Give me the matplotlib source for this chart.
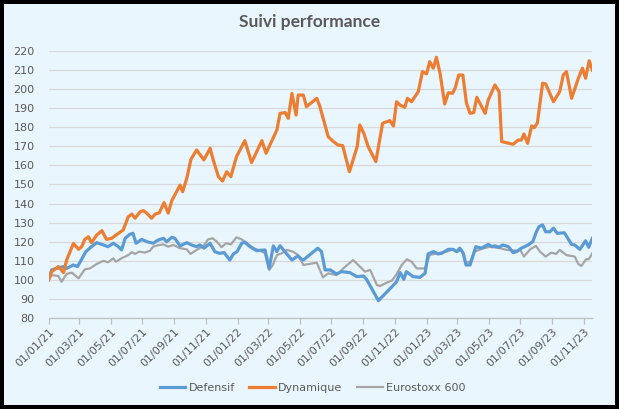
import matplotlib
matplotlib.use("Agg")
import matplotlib.pyplot as plt
import matplotlib.dates as mdates
from matplotlib.patches import Rectangle
import pandas as pd

# ---------------- data ----------------
dyn_dates = ["2021-01-01","2021-01-07","2021-01-20","2021-01-30","2021-02-05","2021-02-18","2021-02-28",
    "2021-03-06","2021-03-12","2021-03-19","2021-03-25","2021-04-04","2021-04-14","2021-04-23","2021-05-03",
    "2021-05-16","2021-05-25","2021-06-04","2021-06-11","2021-06-17","2021-06-27","2021-07-03","2021-07-10",
    "2021-07-19","2021-07-26","2021-08-03","2021-08-12","2021-08-20","2021-08-27","2021-09-12","2021-09-17",
    "2021-09-25","2021-10-03","2021-10-14","2021-10-28","2021-11-09","2021-11-15","2021-11-25","2021-12-03",
    "2021-12-11","2021-12-19","2021-12-30","2022-01-15","2022-01-28","2022-02-17","2022-02-25","2022-03-18",
    "2022-03-24","2022-04-03","2022-04-09","2022-04-16","2022-04-24","2022-04-28","2022-05-08","2022-05-14",
    "2022-06-03","2022-06-09","2022-06-25","2022-07-05","2022-07-14","2022-07-23","2022-08-05","2022-08-20",
    "2022-08-25","2022-09-02","2022-09-10","2022-09-25","2022-10-08","2022-10-22","2022-10-29","2022-11-04",
    "2022-11-11","2022-11-20","2022-11-25","2022-12-03","2022-12-16","2022-12-24","2023-01-01","2023-01-07",
    "2023-01-14","2023-01-20","2023-01-27","2023-02-05","2023-02-12","2023-02-20","2023-02-25","2023-03-04",
    "2023-03-12","2023-03-19","2023-03-26","2023-04-02","2023-04-08","2023-04-24","2023-04-30","2023-05-13",
    "2023-05-21","2023-05-26","2023-06-17","2023-06-27","2023-07-03","2023-07-08","2023-07-15","2023-07-23",
    "2023-07-28","2023-08-03","2023-08-13","2023-08-19","2023-09-03","2023-09-15","2023-09-22","2023-09-28",
    "2023-10-08","2023-10-21","2023-10-29","2023-11-04","2023-11-11","2023-11-17"]
dynamique = [100,104.3,107,103.8,110.4,119.1,116,
    117.4,121.2,122.6,119.5,123.5,125.8,121.2,121.8,
    124.4,126.1,133.1,134.5,132.3,135.7,136.3,134.9,
    132.3,134.5,135.2,140.5,135,141.5,149.7,146.2,
    153.3,163.2,168.1,162.9,169,162.9,154.1,151.8,
    156.7,154.1,164.6,173,161.5,173,166.4,178.6,
    187.3,187.7,184.7,197.8,186.4,196.9,196.9,190.8,
    195.2,190.8,175.1,172.5,170.7,170.4,156.7,169.9,
    181.2,176.8,169.9,162,182.1,183.5,180.7,193.4,
    191.6,190.5,195.2,193.4,198.7,209.2,208,214.4,
    211,216.7,208.3,192.2,198.1,197.8,200.4,207.4,
    207.4,192.6,187.3,187.7,195.7,187.3,194.3,202.2,
    198.7,172.5,171.1,173.3,173.3,176.5,171.6,180.7,
    179.8,182.4,203.1,202.7,193.4,198.7,207.4,209.2,
    195.2,205.7,211,205.7,214.9,210]

def_dates = ["2021-01-01","2021-01-07","2021-01-17","2021-01-30","2021-02-05","2021-02-12","2021-02-18",
    "2021-02-26","2021-03-06","2021-03-14","2021-03-25","2021-04-04","2021-04-17","2021-04-26","2021-05-06",
    "2021-05-16","2021-05-22","2021-05-29","2021-06-07","2021-06-13","2021-06-19","2021-06-30","2021-07-10",
    "2021-07-22","2021-08-01","2021-08-11","2021-08-17","2021-08-27","2021-09-02","2021-09-12","2021-09-25",
    "2021-10-04","2021-10-14","2021-10-20","2021-10-28","2021-11-09","2021-11-18","2021-11-27","2021-12-06",
    "2021-12-17","2021-12-24","2021-12-31","2022-01-09","2022-01-15","2022-01-25","2022-02-07","2022-02-23",
    "2022-03-03","2022-03-11","2022-03-18","2022-03-24","2022-04-05","2022-04-16","2022-04-27","2022-05-05",
    "2022-05-08","2022-06-05","2022-06-12","2022-06-19","2022-06-29","2022-07-11","2022-07-21","2022-08-06",
    "2022-08-19","2022-09-01","2022-09-07","2022-09-30","2022-10-26","2022-11-04","2022-11-11","2022-11-18",
    "2022-11-23","2022-12-06","2022-12-19","2022-12-29","2023-01-04","2023-01-14","2023-01-23","2023-01-30",
    "2023-02-12","2023-02-21","2023-02-28","2023-03-06","2023-03-13","2023-03-18","2023-03-26","2023-04-06",
    "2023-04-17","2023-04-30","2023-05-07","2023-05-13","2023-05-21","2023-05-28","2023-06-08","2023-06-17",
    "2023-06-24","2023-07-03","2023-07-16","2023-07-25","2023-08-01","2023-08-06","2023-08-13","2023-08-19",
    "2023-08-27","2023-09-03","2023-09-10","2023-09-24","2023-10-08","2023-10-14","2023-10-24","2023-11-04",
    "2023-11-10","2023-11-17"]
defensif = [100,105.2,106,107,106,107,107.8,
    107,110.8,114.8,117.4,119.5,118.3,117.4,119.2,
    117.4,115.7,121.8,123.9,124.4,119.2,121.2,120,
    119.2,120.9,121.8,120,122.3,121.8,117.8,119.5,
    118.3,117.4,118.3,116.6,119.2,114.8,113.9,114.3,
    110.4,113.6,114.8,119.2,119.7,117.4,115.3,115.7,
    106,117.8,114.8,117.9,113.9,110.4,112.5,110.8,
    110.4,116.6,114.8,105.2,105.2,103.1,104.3,103.8,
    101.7,102,100.3,89.1,96.4,99,103.8,100.3,
    104.3,101.7,101.3,103.4,113.6,114.8,113.6,113.9,
    116,116,114.8,116.6,113.9,107.8,107.8,117.4,
    116.6,118.6,117.4,117.8,117.1,118.3,117.4,114.3,
    114.8,116.6,118.3,120,125.2,127.9,128.8,125.2,
    125.2,127.1,124.4,124.7,118.6,118.3,116,120.5,
    117.1,121.8]

eur_dates = ["2021-01-01","2021-01-07","2021-01-20","2021-01-26","2021-02-05","2021-02-15","2021-02-28",
    "2021-03-12","2021-03-22","2021-04-04","2021-04-17","2021-04-26","2021-05-06","2021-05-11","2021-05-22",
    "2021-06-04","2021-06-11","2021-06-17","2021-06-25","2021-07-06","2021-07-16","2021-07-22","2021-08-03",
    "2021-08-11","2021-08-20","2021-08-30","2021-09-12","2021-09-25","2021-10-02","2021-10-14","2021-10-27",
    "2021-11-05","2021-11-14","2021-11-22","2021-12-01","2021-12-10","2021-12-19","2021-12-30","2022-01-09",
    "2022-01-19","2022-02-01","2022-02-14","2022-02-23","2022-03-03","2022-03-10","2022-03-18","2022-03-27",
    "2022-04-06","2022-04-18","2022-04-28","2022-05-08","2022-05-27","2022-06-03","2022-06-15","2022-06-25",
    "2022-07-11","2022-07-24","2022-08-12","2022-08-22","2022-09-04","2022-09-14","2022-09-27","2022-10-03",
    "2022-10-16","2022-10-26","2022-11-03","2022-11-14","2022-11-24","2022-12-03","2022-12-13","2022-12-29",
    "2023-01-07","2023-01-20","2023-02-09","2023-02-21","2023-02-28","2023-03-10","2023-03-17","2023-03-26",
    "2023-04-04","2023-04-17","2023-05-03","2023-05-23","2023-06-05","2023-06-24","2023-06-30","2023-07-08",
    "2023-07-20","2023-07-31","2023-08-08","2023-08-19","2023-08-30","2023-09-08","2023-09-15","2023-09-28",
    "2023-10-14","2023-10-21","2023-10-27","2023-11-05","2023-11-10","2023-11-17"]
eurostoxx = [100,102.5,102,99,103.1,103.8,100.8,
    105.5,106,108.3,110,109.2,111.3,109.5,111.3,
    113,114.5,113.6,114.8,114.3,115.3,117.4,118.3,
    118.6,117.4,118.3,116.6,116,113.6,115.7,117.8,
    121.2,121.8,120,117.1,119.2,118.6,122.3,121.2,
    119.2,116.6,115.3,113.9,105.2,107.8,113,113.9,
    115.7,114.8,113,107.8,108.7,109,101.3,103.4,
    102.5,106,110.4,107.8,104.3,105.2,97.3,96.8,
    98.5,99.6,102.5,107.8,110.8,109.5,106,106,
    113,113.9,114.8,116,114.8,115.7,109,109.5,
    114.8,116.2,117.4,116.6,115.7,115.3,116,112.2,
    116,117.8,114.8,112.2,114.3,113.6,115.7,113,
    112.2,108.3,107.3,110.8,110.8,113.9]

series_names = ["Defensif", "Dynamique", "Eurostoxx 600"]
title_text = "Suivi performance"
y_ticks = list(range(80, 221, 10))
x_start, x_end = "2021-01-01", "2023-11-17"

# ---------------- style ----------------
BG = "#EAF6FD"
TXT = "#595959"
W_PX, H_PX = 619, 409
FRAME_PX = 4
plt.rcParams["font.family"] = ["DejaVu Sans"]

fig = plt.figure(figsize=(W_PX / 100, H_PX / 100), dpi=100)
fig.patch.set_facecolor("black")

# light-blue chart area inset inside the black frame
fx, fy = FRAME_PX / W_PX, FRAME_PX / H_PX
inner = Rectangle((fx, fy), 1 - 2 * fx, 1 - 2 * fy, transform=fig.transFigure,
                  facecolor=BG, edgecolor="none", zorder=-5)
fig.add_artist(inner)

ax = fig.add_axes([0.0784, 0.2225, 0.9569 - 0.0784, 0.8753 - 0.2225])
ax.set_facecolor(BG)

ax.plot(pd.to_datetime(def_dates), defensif, color="#5B9BD5", lw=2.3,
        label=series_names[0], solid_joinstyle="round", zorder=3)
ax.plot(pd.to_datetime(dyn_dates), dynamique, color="#ED7D31", lw=2.3,
        label=series_names[1], solid_joinstyle="round", zorder=3)
ax.plot(pd.to_datetime(eur_dates), eurostoxx, color="#A5A5A5", lw=1.6,
        label=series_names[2], solid_joinstyle="round", zorder=2)

ax.set_ylim(80, 220)
ax.set_yticks(y_ticks)
ax.set_xlim(pd.Timestamp(x_start), pd.Timestamp(x_end))
ax.xaxis.set_major_locator(mdates.MonthLocator(bymonth=[1, 3, 5, 7, 9, 11]))
ax.xaxis.set_major_formatter(mdates.DateFormatter("%d/%m/%y"))

ax.grid(axis="y", color="#D9D9D9", lw=0.9)
ax.set_axisbelow(True)
for s in ["top", "right", "left"]:
    ax.spines[s].set_visible(False)
ax.spines["bottom"].set_color("#BFBFBF")
ax.spines["bottom"].set_linewidth(0.9)
ax.spines["bottom"].set_zorder(1)

ax.tick_params(axis="y", length=0, pad=10, labelsize=8, labelcolor=TXT)
ax.tick_params(axis="x", length=4, width=0.9, color="#BFBFBF", pad=2,
               labelsize=8, labelcolor=TXT)
for lbl in ax.get_xticklabels():
    lbl.set_rotation(45)
    lbl.set_ha("right")
    lbl.set_va("top")
    lbl.set_rotation_mode("anchor")

fig.text(0.5, 0.945, title_text, ha="center", va="center", fontsize=12.5,
         fontweight="bold", color=TXT, family=["Lato", "DejaVu Sans"])

fig.legend(loc="center", bbox_to_anchor=(0.505, 0.052), ncol=3, frameon=False,
           fontsize=8, labelcolor=TXT, handlelength=2.3, handletextpad=0.3,
           columnspacing=1.3)

fig.savefig("out.png", dpi=100, facecolor="black")
